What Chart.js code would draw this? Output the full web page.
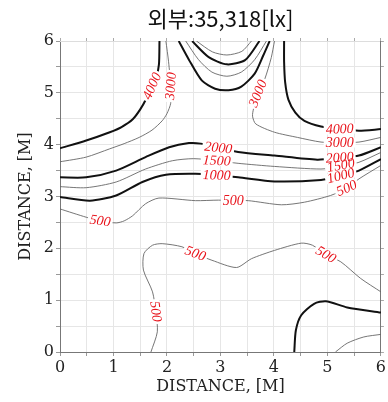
<!DOCTYPE html>
<html>
<head>
<meta charset="utf-8">
<script src="https://cdn.jsdelivr.net/npm/chart.js@4.4.1/dist/chart.umd.min.js"></script>
<style>
  html, body { margin: 0; padding: 0; background: #fff; }
</style>
</head>
<body>
<canvas id="c" width="388" height="402"></canvas>
<script>
// ===== DATA (contour lines, [x, y] in metres) =====
const chartTitle = "외부:35,318[lx]";
const axisTitle = "DISTANCE, [M]";

// left / upper band
const c4000a = [[1.86,6],[1.85,5.55],[1.8,5.3],[1.72,5.13],[1.62,4.9],[1.5,4.68],[1.36,4.49],[1.15,4.34],[0.93,4.24],[0.49,4.08],[0,3.93]];
const c3000a = [[1.98,6],[2.03,5.6],[2.07,5.13],[2.07,4.8],[2.0,4.6],[1.91,4.46],[1.72,4.28],[1.48,4.14],[1.2,4.02],[0.93,3.92],[0.49,3.76],[0,3.67]];
const c2000a = [[0,3.37],[0.49,3.37],[1.05,3.5],[1.6,3.76],[2.04,3.95],[2.41,4.03],[2.63,4.02],[2.96,3.94],[3.33,3.86],[4.01,3.79],[4.81,3.71],[5.23,3.75],[5.59,3.79],[6,3.95]];
const c1500a = [[0,3.19],[0.49,3.17],[1.05,3.28],[1.6,3.53],[2.1,3.69],[2.5,3.73],[2.93,3.69],[3.33,3.64],[4.01,3.58],[4.88,3.53],[5.25,3.58],[5.59,3.66],[6,3.85]];
const c1000a = [[0,2.99],[0.56,2.92],[1.05,3.02],[1.54,3.28],[1.98,3.42],[2.53,3.44],[2.93,3.41],[3.33,3.37],[4.01,3.29],[4.88,3.32],[5.25,3.4],[5.59,3.5],[6,3.72]];
const c500a = [[0,2.76],[0.49,2.6],[0.75,2.53],[1.05,2.49],[1.2,2.53],[1.36,2.63],[1.6,2.86],[1.85,2.97],[2.53,2.92],[2.96,2.93],[3.24,2.92],[3.52,2.92],[4.14,2.84],[4.57,2.89],[5.06,3.02],[5.36,3.16],[5.59,3.34],[6,3.6]];

// right side
const c3000b = [[4.01,6],[3.95,5.68],[3.83,5.27],[3.7,4.99],[3.62,4.7],[3.6,4.55],[3.66,4.4],[4.01,4.24],[4.44,4.14],[4.88,4.05],[5.23,4.04],[5.59,4.05],[6,4.14]];
const c4000b = [[4.19,6],[4.19,5.6],[4.21,5.2],[4.27,4.87],[4.4,4.62],[4.57,4.46],[4.88,4.35],[5.23,4.3],[5.59,4.27],[6,4.3]];

// valley at the top
const c2000t = [[2.22,6],[2.41,5.64],[2.65,5.24],[2.9,5.08],[3.15,5.05],[3.39,5.12],[3.64,5.37],[3.8,5.72],[3.92,6]];
const c1500t = [[2.35,6],[2.59,5.64],[2.84,5.4],[3.12,5.32],[3.39,5.4],[3.64,5.64],[3.86,6]];
const c1000t = [[2.47,6],[2.78,5.69],[3.12,5.55],[3.46,5.63],[3.73,6]];
const c500t = [[2.55,6],[2.85,5.79],[3.12,5.73],[3.4,5.8],[3.58,6]];

// lower part
const c500b = [[1.7,0],[1.82,0.39],[1.79,0.78],[1.73,1.16],[1.56,1.58],[1.57,1.9],[1.73,2.06],[1.91,2.09],[2.28,2.03],[2.53,1.9],[2.84,1.77],[3.3,1.63],[3.58,1.8],[4.01,1.96],[4.51,2.1],[4.72,2.06],[4.97,1.88],[5.25,1.74],[5.62,1.42],[6,1.16]];
const c1000b = [[4.38,0],[4.41,0.42],[4.51,0.71],[4.75,0.93],[4.97,0.98],[5.37,0.86],[6,0.76]];
const c1500b = [[5.15,0],[5.37,0.17],[5.68,0.29],[6,0.34]];

// contour labels
const labelText = ["4000","3000","3000","4000","3000","2000","1500","1000","2000","1500","1000","500","500","500","500","500","500"];
const labelX    = [1.72, 2.07, 3.7, 5.23, 5.23, 2.96, 2.93, 2.93, 5.23, 5.25, 5.25, 5.36, 3.24, 0.75, 2.53, 4.97, 1.79];
const labelY    = [5.13, 5.13, 4.99, 4.3, 4.04, 3.94, 3.69, 3.41, 3.75, 3.6, 3.4, 3.16, 2.92, 2.53, 1.9, 1.88, 0.78];
const labelRot  = [-66, -86, -68, -2, 0, 6, 3, 2, -4, -10, -14, -24, 0, 8, 20, 30, 82];

// ===== CHART =====
const thick = [c4000a, c2000a, c1000a, c4000b, c2000t, c1000t, c1000b];
const thin = [c3000a, c1500a, c500a, c3000b, c1500t, c500t, c500b, c1500b];

const toPts = (arr) => arr.map((p) => ({ x: p[0], y: p[1] }));
const mk = (arr, isThick) => ({
  data: toPts(arr),
  showLine: true,
  borderColor: isThick ? "#111" : "#666",
  borderWidth: isThick ? 2 : 0.9,
  pointRadius: 0,
  tension: 0.25,
  fill: false,
});

const datasets = [
  ...thin.map((a) => mk(a, false)),
  ...thick.map((a) => mk(a, true)),
];

const serif = "'DejaVu Serif', serif";

// title drawn over the plot centre
const titlePlugin = {
  id: "plotTitle",
  afterDraw(chart) {
    const { ctx, chartArea } = chart;
    ctx.save();
    ctx.font = "22px 'Noto Sans CJK KR', sans-serif";
    ctx.fillStyle = "#111";
    ctx.textAlign = "center";
    ctx.textBaseline = "middle";
    ctx.fillText(chartTitle, (chartArea.left + chartArea.right) / 2, 19);
    ctx.restore();
  },
};

// red inline contour labels
const labelPlugin = {
  id: "contourLabels",
  afterDatasetsDraw(chart) {
    const { ctx } = chart;
    const sx = chart.scales.x, sy = chart.scales.y;
    ctx.save();
    ctx.font = "italic 14px 'Liberation Serif', serif";
    ctx.textAlign = "center";
    ctx.textBaseline = "middle";
    const spots = labelText.map((t, i) => ({
      t,
      px: sx.getPixelForValue(labelX[i]),
      py: sy.getPixelForValue(labelY[i]),
      a: (labelRot[i] * Math.PI) / 180,
      w: ctx.measureText(t).width,
    }));
    // white gaps first, then text
    spots.forEach((s) => {
      ctx.save();
      ctx.translate(s.px, s.py);
      ctx.rotate(s.a);
      ctx.fillStyle = "#fff";
      ctx.fillRect(-s.w / 2 - 2, -5, s.w + 4, 10);
      ctx.restore();
    });
    spots.forEach((s) => {
      ctx.save();
      ctx.translate(s.px, s.py);
      ctx.rotate(s.a);
      ctx.fillStyle = "#e8141c";
      ctx.fillText(s.t, 0, 0.5);
      ctx.restore();
    });
    ctx.restore();
  },
};

const mainAxis = (pos, titlePad, sizeFn) => ({
  type: "linear",
  position: pos,
  min: 0,
  max: 6,
  ticks: {
    stepSize: 0.5,
    autoSkip: false,
    maxRotation: 0,
    padding: 2,
    color: "#222",
    font: { family: serif, size: 16 },
    callback: (v) => (Number.isInteger(v) ? v : ""),
  },
  grid: { color: "#e6e6e6", tickColor: "#999", tickLength: 4 },
  border: { color: "#777" },
  title: {
    display: true,
    text: axisTitle,
    color: "#222",
    font: { family: serif, size: 16 },
    padding: titlePad,
  },
  afterFit: sizeFn,
});

const sideAxis = (pos, sizeFn) => ({
  type: "linear",
  position: pos,
  min: 0,
  max: 6,
  ticks: { display: false, stepSize: 0.5 },
  grid: { drawOnChartArea: false, tickColor: "#aaa", tickLength: 3 },
  border: { color: pos === "top" ? "#ddd" : "#777" },
  afterFit: sizeFn,
});

new Chart(document.getElementById("c"), {
  type: "scatter",
  data: { datasets },
  options: {
    responsive: false,
    animation: false,
    devicePixelRatio: 1,
    layout: { padding: { top: 36, left: 0, right: 0, bottom: 0 } },
    plugins: {
      legend: { display: false },
      tooltip: { enabled: false },
    },
    scales: {
      x: mainAxis("bottom", { top: 0, bottom: 6 }, (s) => { s.height = 50; }),
      y: mainAxis("left", { top: 16, bottom: 0 }, (s) => { s.width = 60; }),
      xTop: sideAxis("top", (s) => { s.height = 5; }),
      yRight: sideAxis("right", (s) => { s.width = 4; }),
    },
  },
  plugins: [labelPlugin, titlePlugin],
});
</script>
</body>
</html>
